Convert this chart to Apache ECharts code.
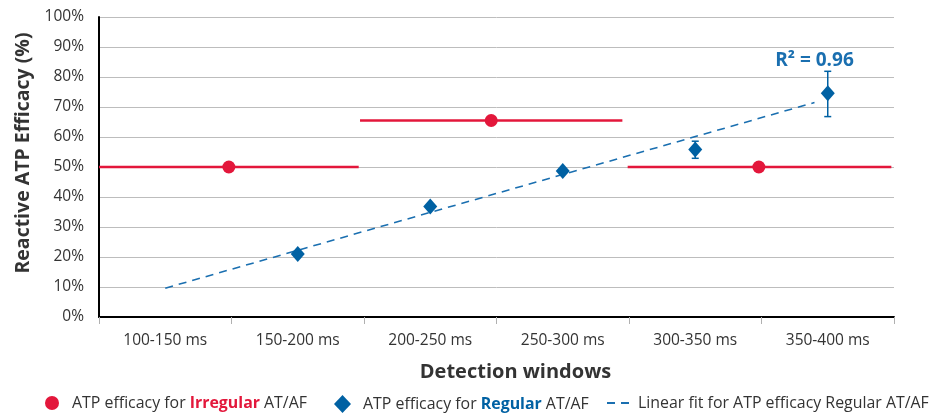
<!DOCTYPE html>
<html><head><meta charset="utf-8">
<script src="https://cdn.jsdelivr.net/npm/echarts@6/dist/echarts.min.js"></script>
<style>html,body{margin:0;padding:0;background:#fff}#c{width:944px;height:413px}</style>
</head><body><div id="c"></div>
<script>
const categories = ['100-150 ms','150-200 ms','200-250 ms','250-300 ms','300-350 ms','350-400 ms'];
const yTicks = [0,10,20,30,40,50,60,70,80,90,100];
// Irregular AT/AF: value spans two detection windows (position units on 0..6 scale)
const irregularX = [0.98, 2.96, 4.98];
const irregularStart = [0.0, 1.97, 3.99];
const irregularEnd = [1.96, 3.95, 5.98];
const irregularY = [50, 65.5, 50];
// Regular AT/AF
const regularX = [1.5, 2.5, 3.5, 4.5, 5.5];
const regularY = [21, 36.8, 48.7, 55.8, 74.6];
const regularErrLow = [null, null, null, 52.9, 66.8];
const regularErrHigh = [null, null, null, 58.6, 81.9];
// Linear fit endpoints
const fitX = [0.5, 5.4];
const fitY = [9.6, 71.5];
const r2Text = 'R² = 0.96';
const legendLabels = ['ATP efficacy for {r|Irregular} AT/AF', 'ATP efficacy for {b|Regular} AT/AF', 'Linear fit for ATP efficacy Regular AT/AF'];

const RED = '#e3173b', BLUE = '#0061a3', FIT = '#1a6fb0';
const FONT = 'Open Sans';
const LFS = 15.9;

const chart = echarts.init(document.getElementById('c'), null, {renderer:'canvas'});
const segSeries = irregularX.map((x,i)=>({
  type:'line', name:'seg'+i, xAxisIndex:1, yAxisIndex:0, symbol:'none', silent:true,
  lineStyle:{color:RED, width:2.6}, z:3,
  data:[[irregularStart[i], irregularY[i]], [irregularEnd[i], irregularY[i]]]
}));
function mkLegend(name, left, icon, w, h, pad, label){
  return {
    left:left, top:390, itemWidth:w, itemHeight:h, itemGap:0,
    data:[icon ? {name:name, icon:icon} : {name:name, itemStyle:{opacity:0}}],
    formatter:function(){ return label; },
    textStyle:{fontSize:LFS, color:'#333', fontFamily:FONT, padding:[0,0,0,pad],
      rich:{r:{color:RED, fontWeight:'bold', fontSize:LFS, fontFamily:FONT},
            b:{color:BLUE, fontWeight:'bold', fontSize:LFS, fontFamily:FONT}}}
  };
}
const option = {
  animation:false,
  textStyle:{fontFamily:FONT},
  grid:{left:99, right:50, top:17, bottom:96, containLabel:false},
  xAxis:[{
    type:'category', data:categories, boundaryGap:true,
    axisLine:{lineStyle:{color:'#000', width:2}},
    axisTick:{show:true, length:7, lineStyle:{color:'#b0b0b0', width:1}},
    axisLabel:{color:'#333', fontSize:15.5, margin:16, fontFamily:FONT},
    splitLine:{show:false},
    name:'Detection windows', nameLocation:'middle', nameGap:45,
    nameTextStyle:{fontSize:20, fontWeight:'bold', color:'#333', fontFamily:FONT, padding:[0,0,0,38]}
  },{
    type:'value', min:0, max:6, show:false
  }],
  yAxis:[{
    type:'value', min:0, max:100, interval:10,
    axisLine:{show:true, lineStyle:{color:'#000', width:2}},
    axisTick:{show:false},
    axisLabel:{formatter:'{value}%', color:'#333', fontSize:15.5, margin:15, fontFamily:FONT},
    splitLine:{lineStyle:{color:'#bdbdbd', width:1}},
    name:'Reactive ATP Efficacy (%)', nameLocation:'middle', nameGap:59,
    nameTextStyle:{fontSize:19.5, fontWeight:'bold', color:'#333', fontFamily:FONT, padding:[0,0,0,28]}
  }],
  legend:[
    mkLegend('irr', 40, 'circle', 14, 14, 8, legendLabels[0]),
    mkLegend('reg', 329, 'diamond', 17, 18, 7, legendLabels[1]),
    mkLegend('fit', 601, null, 25, 14, 1, legendLabels[2])
  ],
  series:[
    ...segSeries,
    {type:'scatter', name:'irr', xAxisIndex:1, symbol:'circle', symbolSize:13,
      itemStyle:{color:RED, opacity:1}, z:4,
      data:irregularX.map((x,i)=>[x, irregularY[i]])},
    {type:'line', name:'fit', xAxisIndex:1, symbol:'none', z:2,
      lineStyle:{color:FIT, width:1.6, type:[8,6]}, itemStyle:{color:FIT},
      data:fitX.map((x,i)=>[x, fitY[i]]),
      markPoint:{symbol:'circle', symbolSize:0, data:[{coord:[5.4, 85.6], value:r2Text}],
        label:{show:true, formatter:r2Text, color:FIT, fontSize:19, fontWeight:'bold', fontFamily:FONT}}},
    {type:'custom', name:'err', xAxisIndex:1, z:4, silent:true,
      renderItem:function(params, api){
        const lo = api.value(1), hi = api.value(2);
        if(lo==null || isNaN(lo)) return;
        const p1 = api.coord([api.value(0), lo]);
        const p2 = api.coord([api.value(0), hi]);
        const hw = 3.5;
        const st = {stroke:BLUE, lineWidth:1.5};
        return {type:'group', children:[
          {type:'line', shape:{x1:p1[0], y1:p1[1], x2:p2[0], y2:p2[1]}, style:st},
          {type:'line', shape:{x1:p1[0]-hw, y1:p1[1], x2:p1[0]+hw, y2:p1[1]}, style:st},
          {type:'line', shape:{x1:p2[0]-hw, y1:p2[1], x2:p2[0]+hw, y2:p2[1]}, style:st}
        ]};
      },
      data:regularX.map((x,i)=>[x, regularErrLow[i], regularErrHigh[i]])},
    {type:'scatter', name:'reg', xAxisIndex:1, symbol:'diamond', symbolSize:[14,16],
      itemStyle:{color:BLUE, opacity:1}, z:5,
      data:regularX.map((x,i)=>[x, regularY[i]])}
  ]
};
chart.setOption(option);
</script></body></html>
